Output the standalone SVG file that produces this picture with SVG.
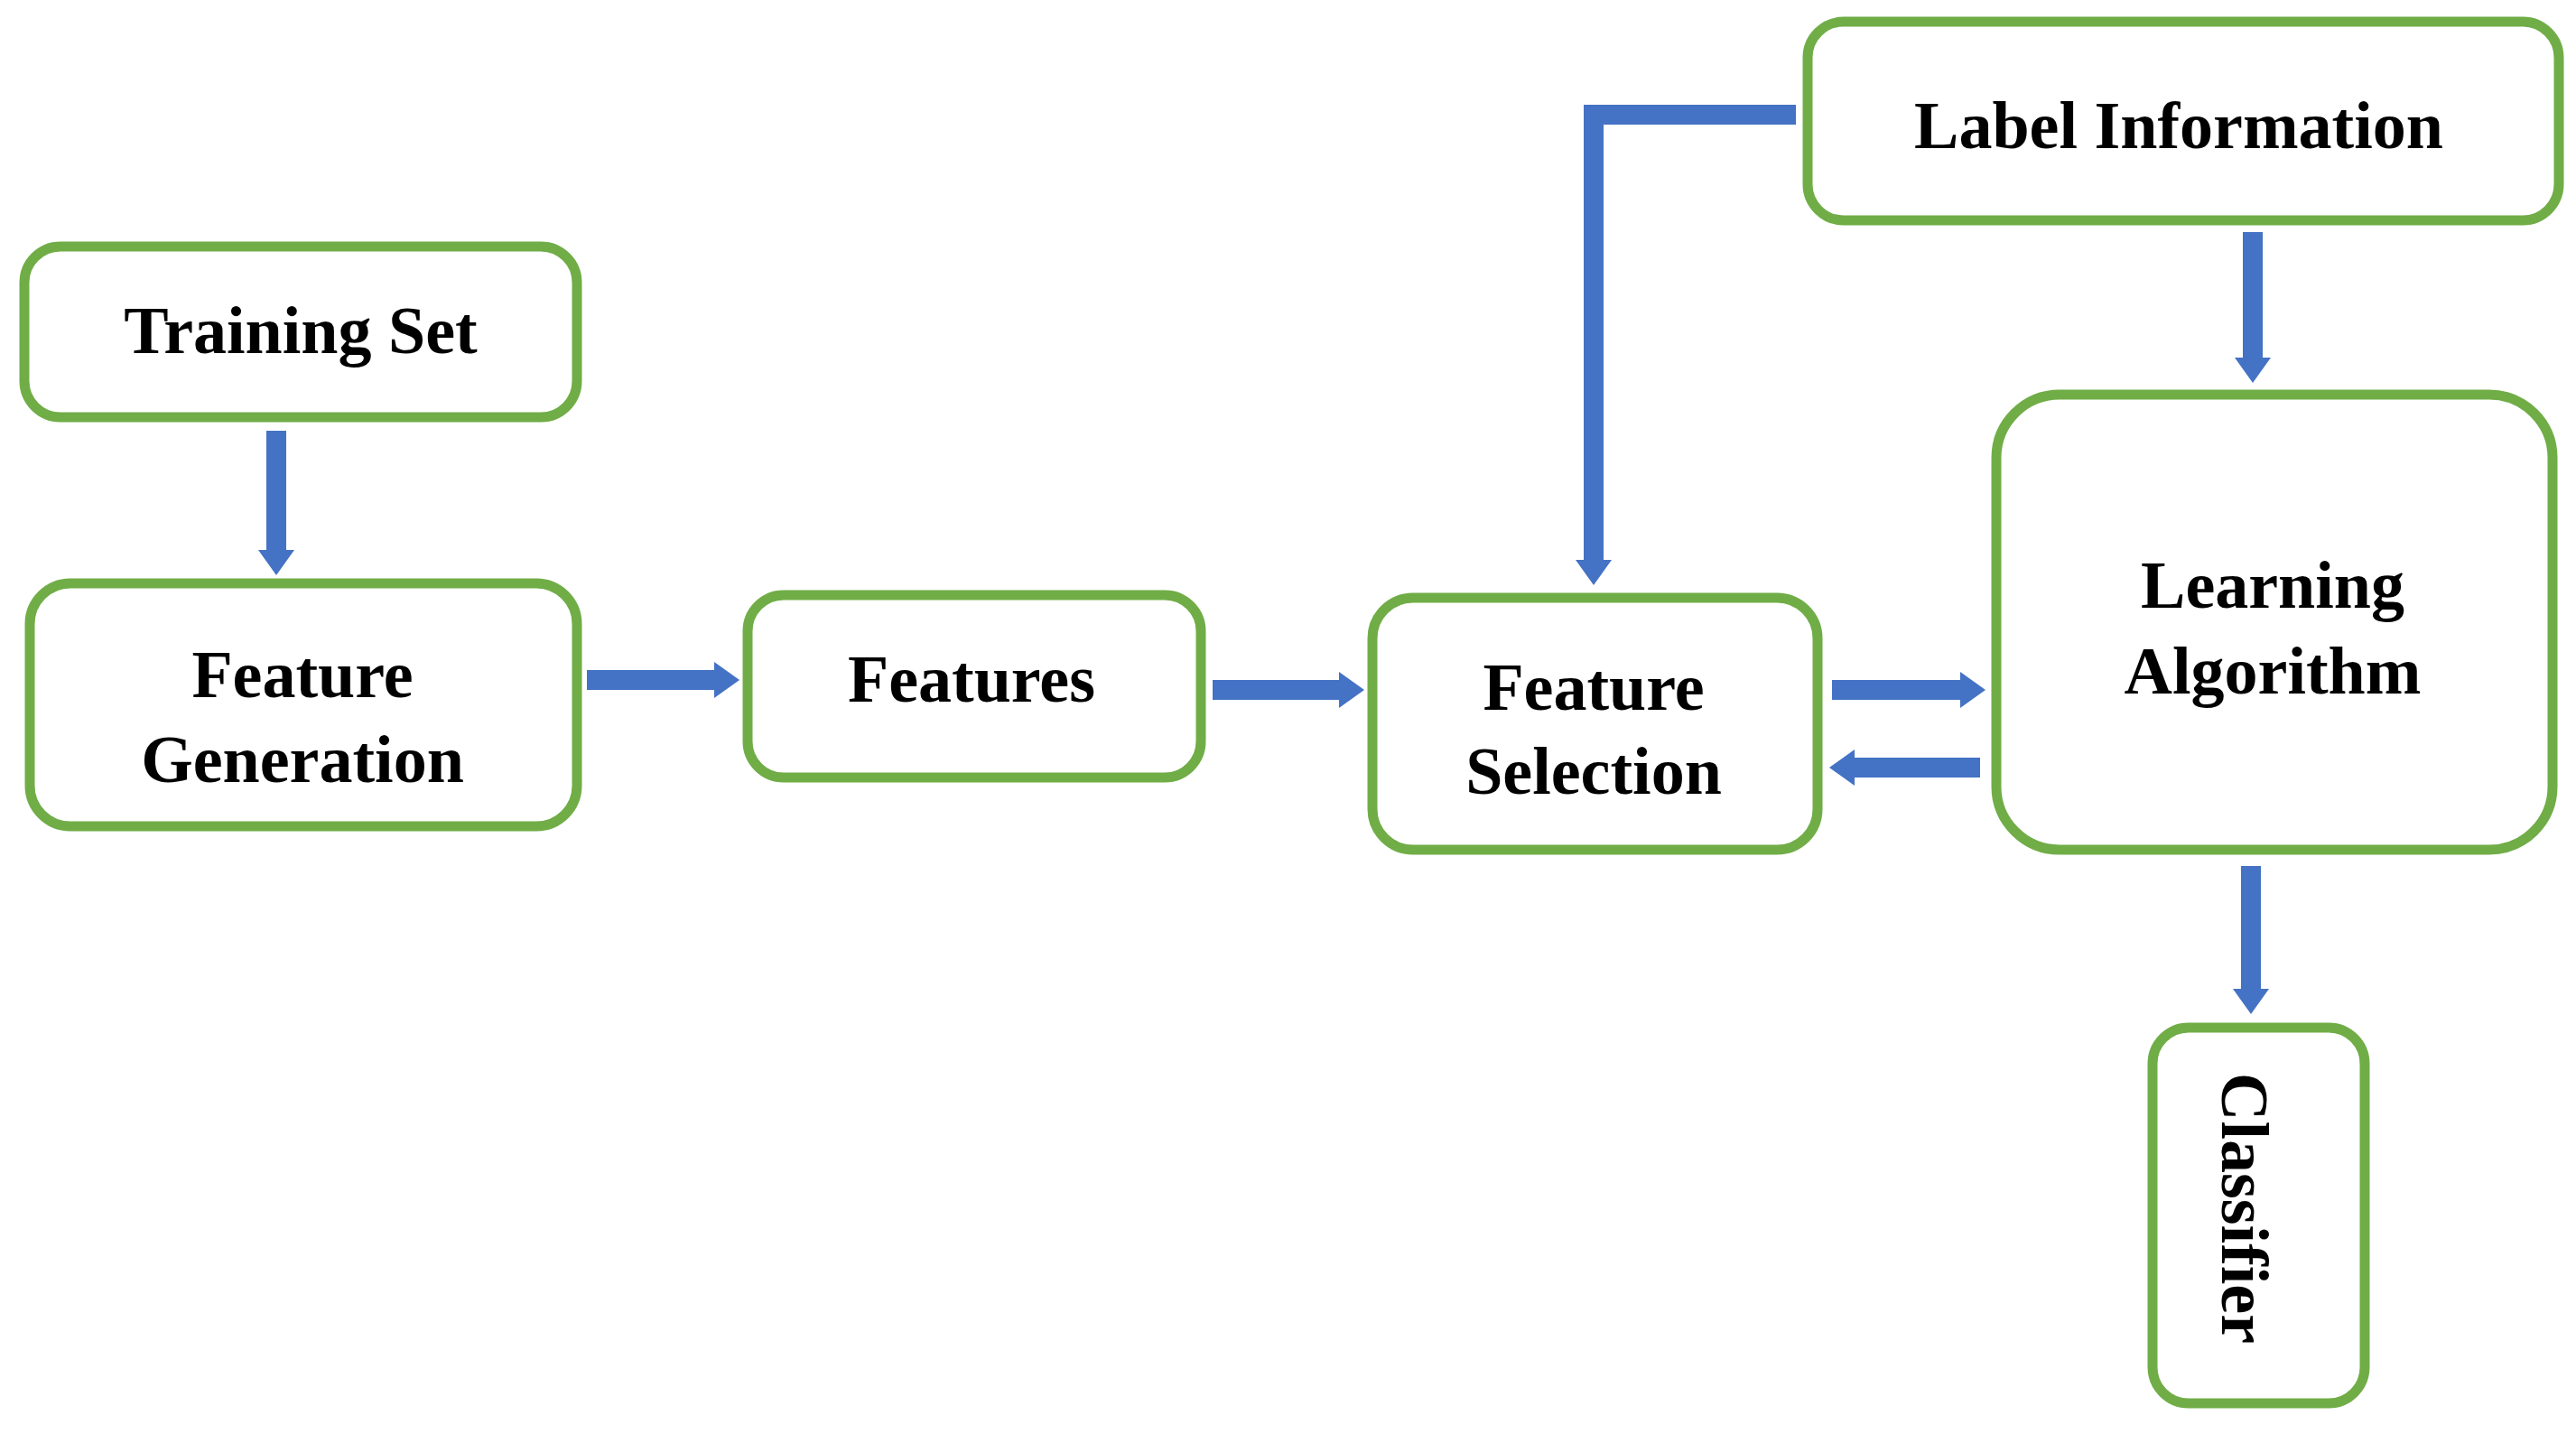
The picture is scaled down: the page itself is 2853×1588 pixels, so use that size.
<svg xmlns="http://www.w3.org/2000/svg" width="2853" height="1588" viewBox="0 0 2853 1588">
<style>
.n{fill:#fff;stroke:#70ad47;stroke-width:11}
.t{font-family:"Liberation Serif","Times New Roman",serif;font-weight:bold;font-size:74px;fill:#000;text-anchor:middle}
.c{fill:none;stroke:#4472c4;stroke-width:22}
</style>
<defs>
<marker id="a" markerUnits="userSpaceOnUse" viewBox="0 0 28 40" markerWidth="28" markerHeight="40" refX="0" refY="20" orient="auto">
<path d="M0,0 L28,20 L0,40 z" fill="#4472c4"/>
</marker>
</defs>
<rect width="2853" height="1588" fill="#fff"/>
<g id="connectors">
<path class="c" marker-end="url(#a)" d="M306,477 V609"/>
<path class="c" marker-end="url(#a)" d="M650,753 H791"/>
<path class="c" marker-end="url(#a)" d="M1343,764 H1483"/>
<path class="c" marker-end="url(#a)" d="M2029,764 H2171"/>
<path class="c" marker-end="url(#a)" d="M2193,850 H2054"/>
<path class="c" marker-end="url(#a)" d="M1989,127 H1765 V620"/>
<path class="c" marker-end="url(#a)" d="M2495,257 V396"/>
<path class="c" marker-end="url(#a)" d="M2493,959 V1095"/>
</g>
<g id="training-set"><rect class="n" x="27" y="273" width="612" height="189" rx="40"/><text class="t" x="333" y="391">Training Set</text></g>
<g id="feature-generation"><rect class="n" x="33" y="646" width="606" height="269" rx="45"/><text class="t" x="335" y="772">Feature</text><text class="t" x="335" y="866">Generation</text></g>
<g id="features"><rect class="n" x="828" y="659" width="502" height="202" rx="40"/><text class="t" x="1076" y="777">Features</text></g>
<g id="feature-selection"><rect class="n" x="1520" y="662" width="493" height="279" rx="45"/><text class="t" x="1765" y="786">Feature</text><text class="t" x="1765" y="879">Selection</text></g>
<g id="label-information"><rect class="n" x="2002" y="24" width="832" height="220" rx="40"/><text class="t" x="2413" y="164">Label Information</text></g>
<g id="learning-algorithm"><rect class="n" x="2211" y="437" width="616" height="504" rx="70"/><text class="t" x="2517" y="673">Learning</text><text class="t" x="2517" y="768">Algorithm</text></g>
<g id="classifier"><rect class="n" x="2384" y="1138" width="235" height="416" rx="40"/><text class="t" transform="translate(2461,1338) rotate(90)">Classifier</text></g>
</svg>
